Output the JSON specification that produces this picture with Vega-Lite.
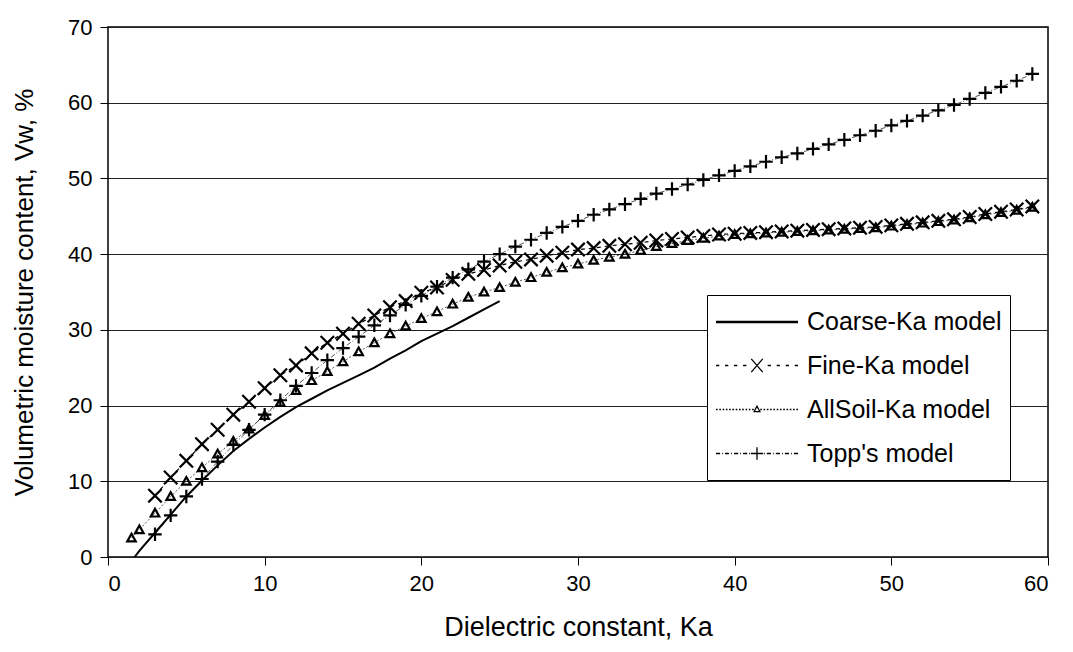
{
  "$schema": "https://vega.github.io/schema/vega-lite/v6.json",
  "autosize": "none",
  "width": 940,
  "height": 530,
  "padding": {"left": 108, "top": 27, "right": 25, "bottom": 95},
  "background": "white",
  "config": {
    "view": {"stroke": "black", "strokeWidth": 1.5},
    "font": "Liberation Sans",
    "axis": {
      "labelFont": "Liberation Sans",
      "titleFont": "Liberation Sans",
      "labelFontSize": 22,
      "titleFontWeight": "normal",
      "labelColor": "black",
      "titleColor": "black",
      "tickColor": "black",
      "tickSize": 8,
      "domain": false
    }
  },
  "datasets": {
    "curves": [
      {"series": "Coarse-Ka model", "Ka": 1.7, "Vw": 0},
      {"series": "Coarse-Ka model", "Ka": 2, "Vw": 0.8},
      {"series": "Coarse-Ka model", "Ka": 3, "Vw": 3.2},
      {"series": "Coarse-Ka model", "Ka": 4, "Vw": 5.6},
      {"series": "Coarse-Ka model", "Ka": 5, "Vw": 8.0},
      {"series": "Coarse-Ka model", "Ka": 6, "Vw": 10.1},
      {"series": "Coarse-Ka model", "Ka": 7, "Vw": 12.1},
      {"series": "Coarse-Ka model", "Ka": 8, "Vw": 14.0},
      {"series": "Coarse-Ka model", "Ka": 9, "Vw": 15.6},
      {"series": "Coarse-Ka model", "Ka": 10, "Vw": 17.1},
      {"series": "Coarse-Ka model", "Ka": 11, "Vw": 18.5},
      {"series": "Coarse-Ka model", "Ka": 12, "Vw": 19.8},
      {"series": "Coarse-Ka model", "Ka": 13, "Vw": 20.9},
      {"series": "Coarse-Ka model", "Ka": 14, "Vw": 22.0},
      {"series": "Coarse-Ka model", "Ka": 15, "Vw": 23.0},
      {"series": "Coarse-Ka model", "Ka": 16, "Vw": 24.0},
      {"series": "Coarse-Ka model", "Ka": 17, "Vw": 25.0},
      {"series": "Coarse-Ka model", "Ka": 18, "Vw": 26.2},
      {"series": "Coarse-Ka model", "Ka": 19, "Vw": 27.3},
      {"series": "Coarse-Ka model", "Ka": 20, "Vw": 28.5},
      {"series": "Coarse-Ka model", "Ka": 21, "Vw": 29.5},
      {"series": "Coarse-Ka model", "Ka": 22, "Vw": 30.5},
      {"series": "Coarse-Ka model", "Ka": 23, "Vw": 31.6},
      {"series": "Coarse-Ka model", "Ka": 24, "Vw": 32.7},
      {"series": "Coarse-Ka model", "Ka": 25, "Vw": 33.8},

      {"series": "Fine-Ka model", "Ka": 3, "Vw": 8.1},
      {"series": "Fine-Ka model", "Ka": 4, "Vw": 10.5},
      {"series": "Fine-Ka model", "Ka": 5, "Vw": 12.7},
      {"series": "Fine-Ka model", "Ka": 6, "Vw": 14.9},
      {"series": "Fine-Ka model", "Ka": 7, "Vw": 16.8},
      {"series": "Fine-Ka model", "Ka": 8, "Vw": 18.8},
      {"series": "Fine-Ka model", "Ka": 9, "Vw": 20.5},
      {"series": "Fine-Ka model", "Ka": 10, "Vw": 22.3},
      {"series": "Fine-Ka model", "Ka": 11, "Vw": 24.0},
      {"series": "Fine-Ka model", "Ka": 12, "Vw": 25.3},
      {"series": "Fine-Ka model", "Ka": 13, "Vw": 26.9},
      {"series": "Fine-Ka model", "Ka": 14, "Vw": 28.3},
      {"series": "Fine-Ka model", "Ka": 15, "Vw": 29.5},
      {"series": "Fine-Ka model", "Ka": 16, "Vw": 30.8},
      {"series": "Fine-Ka model", "Ka": 17, "Vw": 31.9},
      {"series": "Fine-Ka model", "Ka": 18, "Vw": 33.0},
      {"series": "Fine-Ka model", "Ka": 19, "Vw": 33.8},
      {"series": "Fine-Ka model", "Ka": 20, "Vw": 34.9},
      {"series": "Fine-Ka model", "Ka": 21, "Vw": 35.6},
      {"series": "Fine-Ka model", "Ka": 22, "Vw": 36.6},
      {"series": "Fine-Ka model", "Ka": 23, "Vw": 37.4},
      {"series": "Fine-Ka model", "Ka": 24, "Vw": 37.9},
      {"series": "Fine-Ka model", "Ka": 25, "Vw": 38.5},
      {"series": "Fine-Ka model", "Ka": 26, "Vw": 39.0},
      {"series": "Fine-Ka model", "Ka": 27, "Vw": 39.3},
      {"series": "Fine-Ka model", "Ka": 28, "Vw": 39.8},
      {"series": "Fine-Ka model", "Ka": 29, "Vw": 40.2},
      {"series": "Fine-Ka model", "Ka": 30, "Vw": 40.6},
      {"series": "Fine-Ka model", "Ka": 31, "Vw": 40.8},
      {"series": "Fine-Ka model", "Ka": 32, "Vw": 41.1},
      {"series": "Fine-Ka model", "Ka": 33, "Vw": 41.3},
      {"series": "Fine-Ka model", "Ka": 34, "Vw": 41.5},
      {"series": "Fine-Ka model", "Ka": 35, "Vw": 41.8},
      {"series": "Fine-Ka model", "Ka": 36, "Vw": 42.0},
      {"series": "Fine-Ka model", "Ka": 37, "Vw": 42.2},
      {"series": "Fine-Ka model", "Ka": 38, "Vw": 42.4},
      {"series": "Fine-Ka model", "Ka": 39, "Vw": 42.6},
      {"series": "Fine-Ka model", "Ka": 40, "Vw": 42.7},
      {"series": "Fine-Ka model", "Ka": 41, "Vw": 42.8},
      {"series": "Fine-Ka model", "Ka": 42, "Vw": 42.9},
      {"series": "Fine-Ka model", "Ka": 43, "Vw": 43.0},
      {"series": "Fine-Ka model", "Ka": 44, "Vw": 43.1},
      {"series": "Fine-Ka model", "Ka": 45, "Vw": 43.2},
      {"series": "Fine-Ka model", "Ka": 46, "Vw": 43.3},
      {"series": "Fine-Ka model", "Ka": 47, "Vw": 43.4},
      {"series": "Fine-Ka model", "Ka": 48, "Vw": 43.5},
      {"series": "Fine-Ka model", "Ka": 49, "Vw": 43.6},
      {"series": "Fine-Ka model", "Ka": 50, "Vw": 43.8},
      {"series": "Fine-Ka model", "Ka": 51, "Vw": 44.0},
      {"series": "Fine-Ka model", "Ka": 52, "Vw": 44.2},
      {"series": "Fine-Ka model", "Ka": 53, "Vw": 44.4},
      {"series": "Fine-Ka model", "Ka": 54, "Vw": 44.6},
      {"series": "Fine-Ka model", "Ka": 55, "Vw": 44.9},
      {"series": "Fine-Ka model", "Ka": 56, "Vw": 45.3},
      {"series": "Fine-Ka model", "Ka": 57, "Vw": 45.6},
      {"series": "Fine-Ka model", "Ka": 58, "Vw": 45.9},
      {"series": "Fine-Ka model", "Ka": 59, "Vw": 46.3},

      {"series": "AllSoil-Ka model", "Ka": 1.5, "Vw": 2.5},
      {"series": "AllSoil-Ka model", "Ka": 2, "Vw": 3.6},
      {"series": "AllSoil-Ka model", "Ka": 3, "Vw": 5.8},
      {"series": "AllSoil-Ka model", "Ka": 4, "Vw": 8.0},
      {"series": "AllSoil-Ka model", "Ka": 5, "Vw": 10.0},
      {"series": "AllSoil-Ka model", "Ka": 6, "Vw": 11.8},
      {"series": "AllSoil-Ka model", "Ka": 7, "Vw": 13.6},
      {"series": "AllSoil-Ka model", "Ka": 8, "Vw": 15.3},
      {"series": "AllSoil-Ka model", "Ka": 9, "Vw": 16.9},
      {"series": "AllSoil-Ka model", "Ka": 10, "Vw": 18.7},
      {"series": "AllSoil-Ka model", "Ka": 11, "Vw": 20.4},
      {"series": "AllSoil-Ka model", "Ka": 12, "Vw": 22.0},
      {"series": "AllSoil-Ka model", "Ka": 13, "Vw": 23.3},
      {"series": "AllSoil-Ka model", "Ka": 14, "Vw": 24.5},
      {"series": "AllSoil-Ka model", "Ka": 15, "Vw": 25.8},
      {"series": "AllSoil-Ka model", "Ka": 16, "Vw": 27.1},
      {"series": "AllSoil-Ka model", "Ka": 17, "Vw": 28.3},
      {"series": "AllSoil-Ka model", "Ka": 18, "Vw": 29.5},
      {"series": "AllSoil-Ka model", "Ka": 19, "Vw": 30.5},
      {"series": "AllSoil-Ka model", "Ka": 20, "Vw": 31.5},
      {"series": "AllSoil-Ka model", "Ka": 21, "Vw": 32.4},
      {"series": "AllSoil-Ka model", "Ka": 22, "Vw": 33.4},
      {"series": "AllSoil-Ka model", "Ka": 23, "Vw": 34.3},
      {"series": "AllSoil-Ka model", "Ka": 24, "Vw": 35.0},
      {"series": "AllSoil-Ka model", "Ka": 25, "Vw": 35.6},
      {"series": "AllSoil-Ka model", "Ka": 26, "Vw": 36.3},
      {"series": "AllSoil-Ka model", "Ka": 27, "Vw": 36.9},
      {"series": "AllSoil-Ka model", "Ka": 28, "Vw": 37.6},
      {"series": "AllSoil-Ka model", "Ka": 29, "Vw": 38.2},
      {"series": "AllSoil-Ka model", "Ka": 30, "Vw": 38.7},
      {"series": "AllSoil-Ka model", "Ka": 31, "Vw": 39.2},
      {"series": "AllSoil-Ka model", "Ka": 32, "Vw": 39.6},
      {"series": "AllSoil-Ka model", "Ka": 33, "Vw": 40.0},
      {"series": "AllSoil-Ka model", "Ka": 34, "Vw": 40.5},
      {"series": "AllSoil-Ka model", "Ka": 35, "Vw": 41.0},
      {"series": "AllSoil-Ka model", "Ka": 36, "Vw": 41.4},
      {"series": "AllSoil-Ka model", "Ka": 37, "Vw": 41.8},
      {"series": "AllSoil-Ka model", "Ka": 38, "Vw": 42.1},
      {"series": "AllSoil-Ka model", "Ka": 39, "Vw": 42.4},
      {"series": "AllSoil-Ka model", "Ka": 40, "Vw": 42.6},
      {"series": "AllSoil-Ka model", "Ka": 41, "Vw": 42.7},
      {"series": "AllSoil-Ka model", "Ka": 42, "Vw": 42.8},
      {"series": "AllSoil-Ka model", "Ka": 43, "Vw": 42.9},
      {"series": "AllSoil-Ka model", "Ka": 44, "Vw": 43.0},
      {"series": "AllSoil-Ka model", "Ka": 45, "Vw": 43.1},
      {"series": "AllSoil-Ka model", "Ka": 46, "Vw": 43.2},
      {"series": "AllSoil-Ka model", "Ka": 47, "Vw": 43.3},
      {"series": "AllSoil-Ka model", "Ka": 48, "Vw": 43.4},
      {"series": "AllSoil-Ka model", "Ka": 49, "Vw": 43.5},
      {"series": "AllSoil-Ka model", "Ka": 50, "Vw": 43.7},
      {"series": "AllSoil-Ka model", "Ka": 51, "Vw": 43.9},
      {"series": "AllSoil-Ka model", "Ka": 52, "Vw": 44.1},
      {"series": "AllSoil-Ka model", "Ka": 53, "Vw": 44.3},
      {"series": "AllSoil-Ka model", "Ka": 54, "Vw": 44.5},
      {"series": "AllSoil-Ka model", "Ka": 55, "Vw": 44.8},
      {"series": "AllSoil-Ka model", "Ka": 56, "Vw": 45.2},
      {"series": "AllSoil-Ka model", "Ka": 57, "Vw": 45.5},
      {"series": "AllSoil-Ka model", "Ka": 58, "Vw": 45.8},
      {"series": "AllSoil-Ka model", "Ka": 59, "Vw": 46.2},

      {"series": "Topp's model", "Ka": 3, "Vw": 3.0},
      {"series": "Topp's model", "Ka": 4, "Vw": 5.5},
      {"series": "Topp's model", "Ka": 5, "Vw": 8.0},
      {"series": "Topp's model", "Ka": 6, "Vw": 10.3},
      {"series": "Topp's model", "Ka": 7, "Vw": 12.6},
      {"series": "Topp's model", "Ka": 8, "Vw": 14.8},
      {"series": "Topp's model", "Ka": 9, "Vw": 16.8},
      {"series": "Topp's model", "Ka": 10, "Vw": 18.8},
      {"series": "Topp's model", "Ka": 11, "Vw": 20.7},
      {"series": "Topp's model", "Ka": 12, "Vw": 22.6},
      {"series": "Topp's model", "Ka": 13, "Vw": 24.3},
      {"series": "Topp's model", "Ka": 14, "Vw": 26.0},
      {"series": "Topp's model", "Ka": 15, "Vw": 27.6},
      {"series": "Topp's model", "Ka": 16, "Vw": 29.1},
      {"series": "Topp's model", "Ka": 17, "Vw": 30.6},
      {"series": "Topp's model", "Ka": 18, "Vw": 31.9},
      {"series": "Topp's model", "Ka": 19, "Vw": 33.3},
      {"series": "Topp's model", "Ka": 20, "Vw": 34.5},
      {"series": "Topp's model", "Ka": 21, "Vw": 35.7},
      {"series": "Topp's model", "Ka": 22, "Vw": 36.9},
      {"series": "Topp's model", "Ka": 23, "Vw": 38.0},
      {"series": "Topp's model", "Ka": 24, "Vw": 39.0},
      {"series": "Topp's model", "Ka": 25, "Vw": 40.0},
      {"series": "Topp's model", "Ka": 26, "Vw": 41.0},
      {"series": "Topp's model", "Ka": 27, "Vw": 41.9},
      {"series": "Topp's model", "Ka": 28, "Vw": 42.8},
      {"series": "Topp's model", "Ka": 29, "Vw": 43.6},
      {"series": "Topp's model", "Ka": 30, "Vw": 44.4},
      {"series": "Topp's model", "Ka": 31, "Vw": 45.2},
      {"series": "Topp's model", "Ka": 32, "Vw": 45.9},
      {"series": "Topp's model", "Ka": 33, "Vw": 46.6},
      {"series": "Topp's model", "Ka": 34, "Vw": 47.3},
      {"series": "Topp's model", "Ka": 35, "Vw": 48.0},
      {"series": "Topp's model", "Ka": 36, "Vw": 48.6},
      {"series": "Topp's model", "Ka": 37, "Vw": 49.2},
      {"series": "Topp's model", "Ka": 38, "Vw": 49.8},
      {"series": "Topp's model", "Ka": 39, "Vw": 50.4},
      {"series": "Topp's model", "Ka": 40, "Vw": 51.0},
      {"series": "Topp's model", "Ka": 41, "Vw": 51.6},
      {"series": "Topp's model", "Ka": 42, "Vw": 52.2},
      {"series": "Topp's model", "Ka": 43, "Vw": 52.8},
      {"series": "Topp's model", "Ka": 44, "Vw": 53.3},
      {"series": "Topp's model", "Ka": 45, "Vw": 53.9},
      {"series": "Topp's model", "Ka": 46, "Vw": 54.5},
      {"series": "Topp's model", "Ka": 47, "Vw": 55.1},
      {"series": "Topp's model", "Ka": 48, "Vw": 55.7},
      {"series": "Topp's model", "Ka": 49, "Vw": 56.3},
      {"series": "Topp's model", "Ka": 50, "Vw": 57.0},
      {"series": "Topp's model", "Ka": 51, "Vw": 57.6},
      {"series": "Topp's model", "Ka": 52, "Vw": 58.3},
      {"series": "Topp's model", "Ka": 53, "Vw": 59.0},
      {"series": "Topp's model", "Ka": 54, "Vw": 59.7},
      {"series": "Topp's model", "Ka": 55, "Vw": 60.5},
      {"series": "Topp's model", "Ka": 56, "Vw": 61.3},
      {"series": "Topp's model", "Ka": 57, "Vw": 62.1},
      {"series": "Topp's model", "Ka": 58, "Vw": 62.9},
      {"series": "Topp's model", "Ka": 59, "Vw": 63.8}
    ]
  },
  "data": {"name": "curves"},
  "encoding": {
    "x": {
      "field": "Ka", "type": "quantitative",
      "scale": {"domain": [0, 60], "nice": false, "zero": false},
      "axis": {"values": [0, 10, 20, 30, 40, 50, 60], "grid": false, "title": "Dielectric constant, Ka", "titleFontSize": 27, "labelPadding": 8, "titlePadding": 20}
    },
    "y": {
      "field": "Vw", "type": "quantitative",
      "scale": {"domain": [0, 70], "nice": false},
      "axis": {"values": [0, 10, 20, 30, 40, 50, 60, 70], "grid": true, "gridColor": "#222", "gridWidth": 1, "gridOpacity": 1, "title": "Volumetric moisture content, Vw, %", "titleFontSize": 26, "labelPadding": 8, "titlePadding": 30}
    }
  },
  "layer": [
    {
      "transform": [{"filter": "datum.series === 'AllSoil-Ka model'"}],
      "mark": {"type": "line", "color": "#555", "strokeWidth": 1, "strokeDash": [2, 2]}
    },
    {
      "transform": [{"filter": "datum.series === \"Topp's model\""}],
      "mark": {"type": "line", "color": "#555", "strokeWidth": 1, "strokeDash": [5, 2, 1, 2]}
    },
    {
      "transform": [{"filter": "datum.series === 'Fine-Ka model'"}],
      "mark": {"type": "line", "color": "black", "strokeWidth": 1.2, "strokeDash": [4, 4]}
    },
    {
      "transform": [{"filter": "datum.series === 'Coarse-Ka model'"}],
      "mark": {"type": "line", "color": "black", "strokeWidth": 2}
    },
    {
      "transform": [{"filter": "datum.series === 'AllSoil-Ka model'"}],
      "mark": {"type": "point", "filled": false, "color": "black", "strokeWidth": 2.2, "opacity": 1, "size": 72, "shape": "M0,-1L1,0.8L-1,0.8Z"}
    },
    {
      "transform": [{"filter": "datum.series === \"Topp's model\""}],
      "mark": {"type": "point", "filled": false, "color": "black", "strokeWidth": 2.2, "opacity": 1, "size": 180, "shape": "M-1,0L1,0M0,-1L0,1"}
    },
    {
      "transform": [{"filter": "datum.series === 'Fine-Ka model'"}],
      "mark": {"type": "point", "filled": false, "color": "black", "strokeWidth": 2.2, "opacity": 1, "size": 180, "shape": "M-1,-1L1,1M-1,1L1,-1"}
    },
    {
      "transform": [{"filter": "datum.Ka < -100"}],
      "mark": {"type": "point", "filled": false, "color": "black", "strokeWidth": 1.3, "opacity": 1, "size": 6724},
      "encoding": {
        "shape": {
          "field": "series", "type": "nominal",
          "scale": {
            "domain": ["Coarse-Ka model", "Fine-Ka model", "AllSoil-Ka model", "Topp's model"],
            "range": [
              "M-1,0L1,0M-1,0.025L1,0.025",
              "M-1,0L-0.92,0M-0.78,0L-0.7,0M-0.56,0L-0.48,0M-0.34,0L-0.26,0M-0.14,-0.16L0.14,0.16M-0.14,0.16L0.14,-0.16M0.26,0L0.34,0M0.48,0L0.56,0M0.7,0L0.78,0M0.92,0L1,0",
              "M-1,0L-0.96,0M-0.92,0L-0.88,0M-0.84,0L-0.8,0M-0.76,0L-0.72,0M-0.68,0L-0.64,0M-0.6,0L-0.56,0M-0.52,0L-0.48,0M-0.44,0L-0.4,0M-0.36,0L-0.32,0M-0.28,0L-0.24,0M-0.2,0L-0.16,0M-0.12,0L-0.08,0M0,-0.08L0.07,0.05L-0.07,0.05ZM0.08,0L0.12,0M0.16,0L0.2,0M0.24,0L0.28,0M0.32,0L0.36,0M0.4,0L0.44,0M0.48,0L0.52,0M0.56,0L0.6,0M0.64,0L0.68,0M0.72,0L0.76,0M0.8,0L0.84,0M0.88,0L0.92,0M0.96,0L1,0",
              "M-1,0L-0.9,0M-0.85,0L-0.83,0M-0.78,0L-0.68,0M-0.63,0L-0.61,0M-0.56,0L-0.46,0M-0.41,0L-0.39,0M-0.34,0L-0.24,0M-0.19,0L-0.17,0M-0.15,0L0.15,0M0,-0.15L0,0.15M0.17,0L0.19,0M0.24,0L0.34,0M0.39,0L0.41,0M0.46,0L0.56,0M0.61,0L0.63,0M0.68,0L0.78,0M0.83,0L0.85,0M0.9,0L1,0"
            ]
          },
          "legend": {
            "title": null,
            "orient": "none",
            "legendX": 599,
            "legendY": 268,
            "padding": 8,
            "strokeColor": "black",
            "fillColor": "white",
            "symbolSize": 6724,
            "symbolStrokeWidth": 1.3,
            "symbolStrokeColor": "black",
            "symbolOpacity": 1,
            "labelFont": "Liberation Sans",
            "labelFontSize": 25,
            "labelColor": "black",
            "labelOffset": 8,
            "labelLimit": 400,
            "clipHeight": 37,
            "rowPadding": 7
          }
        }
      }
    }
  ],
  "resolve": {"scale": {"shape": "independent"}}
}
